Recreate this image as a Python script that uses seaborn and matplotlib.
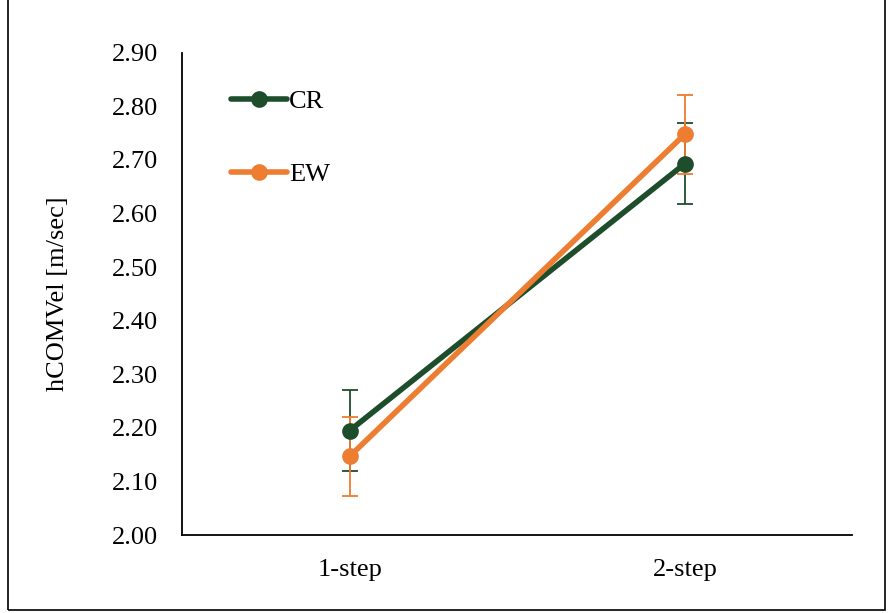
import pandas as pd
import matplotlib
matplotlib.use("Agg")
import matplotlib.pyplot as plt
import seaborn as sns

# datos
conditions = ["1-step", "2-step"]
cr_mean = [2.195, 2.693]
cr_err = [0.075, 0.075]
ew_mean = [2.147, 2.748]
ew_err = [0.074, 0.074]

df = pd.DataFrame({
    "cond": conditions * 2,
    "val": cr_mean + ew_mean,
    "group": ["CR"] * 2 + ["EW"] * 2,
})

sns.set_style("white")
plt.rcParams["font.family"] = ["Liberation Serif", "DejaVu Serif"]
plt.rcParams["text.color"] = "black"
plt.rcParams["axes.labelcolor"] = "black"
plt.rcParams["xtick.color"] = "black"
plt.rcParams["ytick.color"] = "black"

line_colors = {"CR": "#1E4D2B", "EW": "#ED7D31"}
fs = 19

fig = plt.figure(figsize=(8.88, 6.13), dpi=100)
ax = fig.add_axes([0.205, 0.127, 0.755, 0.787])

# barras de error primero (quedan detrás)
for g, m, e in [("CR", cr_mean, cr_err), ("EW", ew_mean, ew_err)]:
    ax.errorbar([0, 1], m, yerr=e, fmt="none", ecolor=line_colors[g],
                elinewidth=1.3, capsize=6, capthick=1.3, zorder=2)

sns.pointplot(data=df, x="cond", y="val", hue="group", palette=line_colors,
              markers="o", linestyles="-", errorbar=None, ax=ax,
              linewidth=4, markersize=9, zorder=3)

ax.set_xlim(-0.5, 1.5)
ax.set_ylim(2.0, 2.9)
ax.set_yticks([2.0 + 0.1 * i for i in range(10)])
ax.set_yticklabels([f"{2.0 + 0.1 * i:.2f}" for i in range(10)], fontsize=fs)
ax.set_xticks([0, 1, 1.5])
ax.set_xticklabels(conditions + [""], fontsize=fs)
ax.tick_params(axis="x", direction="out", length=6, width=1.2, pad=11)
ax.tick_params(axis="y", length=0, pad=17)
ax.set_xlabel("")
ax.set_ylabel("hCOMVel [m/sec]", fontsize=fs, labelpad=31)

for s in ["top", "right"]:
    ax.spines[s].set_visible(False)
for s in ["left", "bottom"]:
    ax.spines[s].set_color("black")
    ax.spines[s].set_linewidth(1.3)

handles, labels = ax.get_legend_handles_labels()
ax.legend(handles, labels, loc="upper left", bbox_to_anchor=(0.038, 0.972),
          frameon=False, fontsize=fs, labelspacing=1.85, handlelength=2.1,
          handletextpad=0.1)

# marco exterior estilo Excel
fig.patches.append(plt.Rectangle((0.009, 0.005), 0.988, 1.2, transform=fig.transFigure,
                                 fill=False, edgecolor="black", linewidth=1.2))

fig.savefig("out.png", dpi=100)
